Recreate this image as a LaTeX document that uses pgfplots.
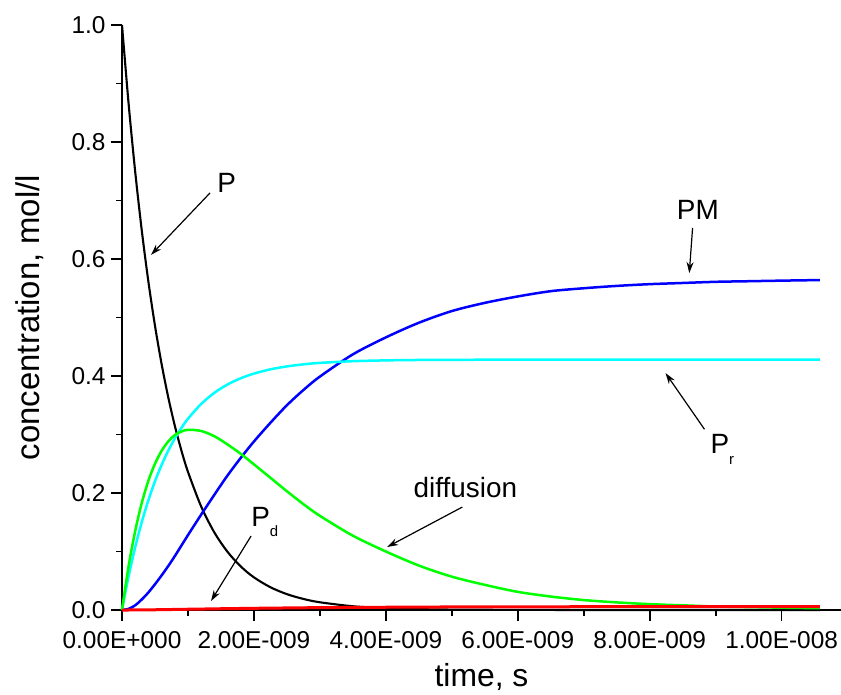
\documentclass[border=0pt]{standalone}
\usepackage{fontspec}
\setmainfont{Liberation Sans}
\usepackage{pgfplots}
\usepackage{pgfplotstable}
\pgfplotsset{compat=1.18}
\usetikzlibrary{arrows.meta}
\definecolor{oblue}{RGB}{0,0,255}
\definecolor{ocyan}{RGB}{0,255,255}
\definecolor{ogreen}{RGB}{0,255,0}
\definecolor{ored}{RGB}{255,0,0}

\pgfplotstableread{
t P Pr D PM Pd
0 1.0000 0.0000 0.000 0.000 0.0000
0.1 0.8656 0.0575 0.075 0.002 0.0000
0.2 0.7493 0.1073 0.135 0.008 0.0001
0.3 0.6486 0.1504 0.183 0.018 0.0002
0.4 0.5614 0.1877 0.221 0.030 0.0003
0.5 0.4860 0.2200 0.250 0.044 0.0004
0.6 0.4207 0.2479 0.272 0.059 0.0006
0.7 0.3642 0.2721 0.288 0.075 0.0008
0.8 0.3153 0.2931 0.299 0.092 0.0009
0.9 0.2729 0.3112 0.305 0.110 0.0011
1.0 0.2362 0.3269 0.308 0.128 0.0013
1.2 0.1770 0.3522 0.306 0.163 0.0016
1.4 0.1326 0.3712 0.297 0.197 0.0020
1.6 0.0994 0.3855 0.283 0.230 0.0023
1.8 0.0745 0.3961 0.267 0.260 0.0026
2.0 0.0558 0.4041 0.249 0.288 0.0029
2.25 0.0389 0.4114 0.226 0.320 0.0032
2.5 0.0271 0.4164 0.203 0.350 0.0035
2.75 0.0189 0.4199 0.181 0.376 0.0038
3.0 0.0132 0.4224 0.161 0.399 0.0040
3.5 0.0064 0.4253 0.127 0.437 0.0044
4.0 0.0031 0.4267 0.100 0.466 0.0047
4.5 0.0015 0.4274 0.076 0.491 0.0050
5.0 0.0007 0.4277 0.057 0.511 0.0052
5.5 0.0004 0.4278 0.043 0.525 0.0053
6.0 0.0002 0.4279 0.031 0.536 0.0054
6.5 0.0001 0.4280 0.023 0.545 0.0055
7.0 0.0000 0.4280 0.017 0.550 0.0056
7.5 0.0000 0.4280 0.013 0.554 0.0056
8.0 0.0000 0.4280 0.010 0.557 0.0056
8.5 0.0000 0.4280 0.008 0.559 0.0057
9.0 0.0000 0.4280 0.006 0.561 0.0057
9.5 0.0000 0.4280 0.005 0.562 0.0057
10.0 0.0000 0.4280 0.004 0.563 0.0057
10.58 0.0000 0.4280 0.003 0.564 0.0057
}\data

\begin{document}
\begin{tikzpicture}
\begin{axis}[
  scale only axis, width=719bp, height=585bp,
  xmin=0, xmax=10.9, ymin=0, ymax=1,
  clip=false,
  axis x line*=bottom, axis y line*=left,
  axis line style={line width=1.7bp, -},
  xtick={0,2,4,6,8,10},
  xticklabels={0.00E+000,2.00E-009,4.00E-009,6.00E-009,8.00E-009,1.00E-008},
  minor xtick={1,3,5,7,9},
  ytick={0,0.2,0.4,0.6,0.8,1.0},
  yticklabels={0.0,0.2,0.4,0.6,0.8,1.0},
  minor ytick={0.1,0.3,0.5,0.7,0.9},
  tick align=outside, major tick length=11bp, minor tick length=6bp,
  every tick/.style={line width=1.7bp, black},
  ticklabel style={font=\fontsize{24.5}{28}\selectfont},
  xticklabel style={yshift=-7bp},
  yticklabel style={xshift=-2bp},
  xlabel={time, s}, ylabel={concentration, mol/l},
  xlabel style={font=\fontsize{32}{36}\selectfont, at={(axis description cs:0.5,0)}, anchor=base, yshift=-76bp},
  ylabel style={font=\fontsize{33}{36}\selectfont, at={(axis description cs:-0.128,0.5)}, anchor=center},
]
\addplot[black, line width=2.1bp, smooth] table[x=t, y=P] {\data};
\addplot[oblue, line width=2.5bp, smooth] table[x=t, y=PM] {\data};
\addplot[ocyan, line width=2.5bp, smooth] table[x=t, y=Pr] {\data};
\addplot[ogreen, line width=2.5bp, smooth] table[x=t, y=D] {\data};
\addplot[ored, line width=3bp] table[x=t, y=Pd] {\data};

\begin{scope}[-{Stealth[length=11bp,width=7bp]}, line width=1.2bp]
\draw (axis cs:1.335,0.713) -- (axis cs:0.44,0.607);
\draw (axis cs:8.65,0.653) -- (axis cs:8.60,0.576);
\draw (axis cs:8.83,0.309) -- (axis cs:8.24,0.405);
\draw (axis cs:1.957,0.1265) -- (axis cs:1.35,0.0154);
\draw (axis cs:5.16,0.176) -- (axis cs:4.02,0.1077);
\end{scope}
\begin{scope}[font=\fontsize{28}{32}\selectfont, inner sep=0pt, anchor=base west]
\node at (axis cs:1.442,0.7145) {P};
\node at (axis cs:8.41,0.667) {PM};
\node at (axis cs:8.92,0.2667) {P\raisebox{-11bp}{\fontsize{15}{15}\selectfont r}};
\node at (axis cs:1.957,0.1419) {P\raisebox{-10bp}{\fontsize{15}{15}\selectfont d}};
\node[anchor=base] at (axis cs:5.205,0.1915) {diffusion};
\end{scope}
\end{axis}
\pgfresetboundingbox
\path[use as bounding box] ([shift={(-122bp,-85bp)}]current axis.south west) rectangle ([shift={(0bp,25bp)}]current axis.north east);
\end{tikzpicture}
\end{document}
